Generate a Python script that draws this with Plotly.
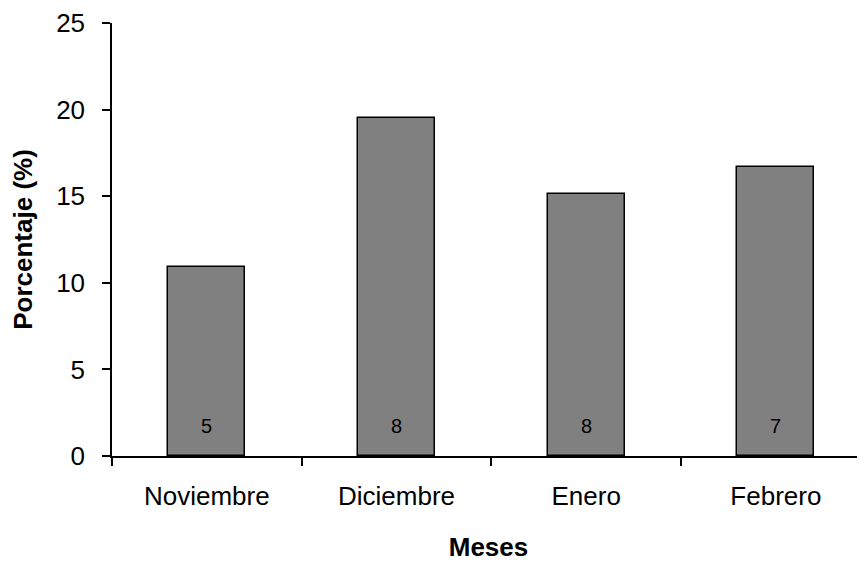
import plotly.graph_objects as go

meses = ["Noviembre", "Diciembre", "Enero", "Febrero"]
porcentaje = [10.9, 19.5, 15.1, 16.7]
n_casos = [5, 8, 8, 7]
y_ticks = [0, 5, 10, 15, 20, 25]

FONT = "Liberation Sans, Arial, sans-serif"

fig = go.Figure(
    go.Bar(
        x=meses,
        y=porcentaje,
        width=0.405,
        marker=dict(color="#808080", line=dict(color="#000000", width=1.5)),
        hoverinfo="x+y",
    )
)

# sample-size labels near the base of each bar
for m, n in zip(meses, n_casos):
    fig.add_annotation(
        x=m, y=0, xref="x", yref="y",
        text=str(n), showarrow=False,
        yanchor="bottom", yshift=17,
        font=dict(family=FONT, size=20, color="#000000"),
    )

fig.update_layout(
    width=857,
    height=554,
    margin=dict(l=104, r=0, t=15, b=106, autoexpand=False),
    paper_bgcolor="white",
    plot_bgcolor="white",
    showlegend=False,
    font=dict(family=FONT, color="#000000"),
    bargap=0,
)

fig.update_xaxes(
    type="category",
    range=[-0.5, 3.47],
    automargin=False,
    showline=True,
    linecolor="#000000",
    linewidth=1.5,
    ticks="outside",
    tickson="boundaries",
    ticklen=8,
    tickwidth=1.5,
    tickcolor="#000000",
    ticklabelstandoff=16,
    ticklabeloverflow="allow",
    tickfont=dict(size=26),
    showgrid=False,
    zeroline=False,
    title=dict(text="<b>Meses</b>", font=dict(size=26), standoff=28),
)

fig.update_yaxes(
    range=[0, 25],
    tickvals=y_ticks,
    automargin=False,
    showline=True,
    linecolor="#000000",
    linewidth=1.5,
    ticks="outside",
    ticklen=8,
    tickwidth=1.5,
    tickcolor="#000000",
    ticklabelstandoff=12,
    ticklabeloverflow="allow",
    tickfont=dict(size=26),
    showgrid=False,
    zeroline=False,
    title=dict(text="<b>Porcentaje (%)</b>", font=dict(size=26), standoff=16),
)

fig.write_html("out.html")
